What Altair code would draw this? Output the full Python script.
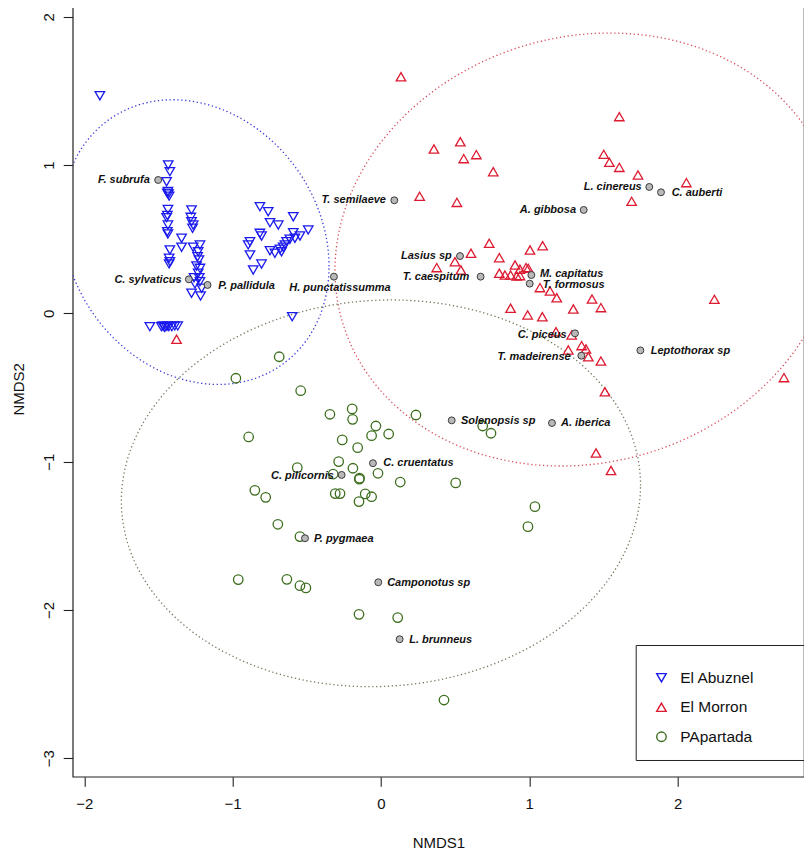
import altair as alt
import pandas as pd
import numpy as np

# ---------------- data ----------------
sites = ["El Abuznel", "El Morron", "PApartada"]
site_colors = ["#1a1aee", "#dd1a30", "#3d6e1e"]
site_shapes = ["triangle-down", "triangle-up", "circle"]

abuz_x = [-1.895, -1.434, -1.423, -1.445, -1.436, -1.432, -1.428, -1.440, -1.436, -1.440,
          -1.445, -1.436, -1.440, -1.436, -1.423, -1.428, -1.423, -1.428, -1.277, -1.282,
          -1.277, -1.266, -1.270, -1.344, -1.344, -1.266, -1.220, -1.232, -1.236, -1.227,
          -1.243, -1.220, -1.232, -1.220, -1.254, -1.209, -1.277, -1.216, -1.260, -1.225,
          -0.816, -0.760, -0.591, -0.748, -0.692, -0.490, -0.816, -0.805, -0.591, -0.546,
          -0.580, -0.614, -0.636, -0.647, -0.883, -0.895, -0.883, -0.748, -0.715, -0.681,
          -0.659, -0.670, -0.805, -0.861, -1.558, -1.480, -1.470, -1.460, -1.450, -1.440,
          -1.430, -1.410, -1.390, -1.370, -0.598]
abuz_y = [1.467, 1.000, 0.955, 0.887, 0.822, 0.805, 0.790, 0.810, 0.700, 0.660,
          0.645, 0.595, 0.550, 0.535, 0.427, 0.371, 0.348, 0.333, 0.697, 0.647,
          0.618, 0.595, 0.573, 0.506, 0.445, 0.445, 0.460, 0.415, 0.382, 0.360,
          0.319, 0.303, 0.270, 0.213, 0.198, 0.169, 0.135, 0.117, 0.240, 0.240,
          0.719, 0.685, 0.651, 0.611, 0.595, 0.562, 0.539, 0.521, 0.543, 0.521,
          0.506, 0.499, 0.483, 0.461, 0.483, 0.461, 0.393, 0.422, 0.405, 0.432,
          0.445, 0.415, 0.332, 0.292, -0.090, -0.090, -0.085, -0.095, -0.090, -0.085,
          -0.090, -0.090, -0.085, -0.085, -0.023]

morr_x = [0.135, 1.607, 0.357, 0.535, 0.558, 0.643, 0.757, 1.502, 1.540, 1.607,
          1.733, 2.059, 1.690, 0.261, 0.512, 0.730, 0.607, 0.499, 0.376, 0.539,
          0.798, 1.005, 1.090, 0.904, 0.937, 0.978, 0.798, 0.836, 0.874, 0.915,
          0.937, 0.993, 1.072, 1.140, 1.185, 1.423, 1.483, 1.297, 0.874, 0.989,
          1.088, 1.180, 1.286, 1.353, 1.382, 1.398, 1.263, 1.483, 1.510, 2.248,
          2.717, -1.378, 1.551, 1.450]
morr_y = [1.595, 1.326, 1.108, 1.157, 1.043, 1.070, 0.955, 1.072, 1.018, 0.984,
          0.933, 0.881, 0.755, 0.789, 0.748, 0.472, 0.405, 0.348, 0.308, 0.292,
          0.375, 0.427, 0.456, 0.326, 0.297, 0.308, 0.270, 0.258, 0.258, 0.252,
          0.254, 0.303, 0.173, 0.150, 0.105, 0.096, 0.038, 0.029, 0.034, -0.011,
          -0.023, -0.124, -0.146, -0.218, -0.241, -0.293, -0.247, -0.322, -0.529, 0.094,
          -0.434, -0.175, -1.060, -0.942]

papa_x = [-0.686, -0.978, -0.541, -0.344, -0.194, -0.191, 0.236, -0.034, -0.063, 0.052,
          -0.261, -0.157, -0.892, -0.285, -0.564, -0.189, -0.322, -0.146, -0.144, -0.020,
          0.130, 0.504, -0.850, -0.777, -0.308, -0.276, -0.106, -0.063, -0.148, 1.038,
          0.991, -0.695, -0.546, -0.962, -0.634, -0.546, -0.506, -0.148, 0.113, 0.425,
          0.686, 0.742]
papa_y = [-0.293, -0.438, -0.522, -0.681, -0.645, -0.715, -0.686, -0.760, -0.825, -0.814,
          -0.854, -0.906, -0.834, -1.000, -1.041, -1.045, -1.084, -1.119, -1.112, -1.079,
          -1.138, -1.144, -1.194, -1.241, -1.216, -1.216, -1.218, -1.237, -1.270, -1.304,
          -1.439, -1.423, -1.506, -1.796, -1.794, -1.837, -1.852, -2.030, -2.052, -2.608,
          -0.760, -0.809]

species = ["F. subrufa", "C. sylvaticus", "P. pallidula", "H. punctatissumma",
           "T. semilaeve", "L. cinereus", "C. auberti", "A. gibbosa", "Lasius sp",
           "T. caespitum", "M. capitatus", "T. formosus", "C. piceus", "T. madeirense",
           "Leptothorax sp", "Solenopsis sp", "A. iberica", "C. cruentatus",
           "C. pilicornis", "P. pygmaea", "Camponotus sp", "L. brunneus"]
sp_x = [-1.502, -1.295, -1.169, -0.317, 0.090, 1.809, 1.888, 1.367, 0.533, 0.672,
        1.014, 1.003, 1.308, 1.351, 1.749, 0.477, 1.153, -0.054, -0.265, -0.512,
        -0.018, 0.126]
sp_y = [0.899, 0.229, 0.191, 0.247, 0.762, 0.852, 0.816, 0.697, 0.386, 0.247,
        0.258, 0.200, -0.135, -0.286, -0.250, -0.722, -0.740, -1.011, -1.090, -1.517,
        -1.814, -2.198]
lab_x = [-1.558, -1.344, -1.097, -0.618, 0.034, 1.758, 1.960, 1.315, 0.477, 0.595,
         1.072, 1.090, 1.252, 1.279, 1.819, 0.539, 1.214, 0.016, -0.317, -0.452,
         0.042, 0.191]
lab_y = [0.899, 0.225, 0.186, 0.169, 0.762, 0.852, 0.813, 0.697, 0.384, 0.243,
         0.262, 0.194, -0.146, -0.293, -0.252, -0.726, -0.743, -1.011, -1.097, -1.524,
         -1.819, -2.203]
lab_side = ["right", "right", "left", "left", "right", "right", "left", "right", "right",
            "right", "left", "left", "right", "right", "left", "left", "left", "left",
            "right", "left", "left", "left"]

# ellipse parameters: centre, half-extents along x and y, and x-y correlation
ell_site = ["El Abuznel", "El Morron", "PApartada"]
ell_cx = [-1.25, 1.38, 0.00]
ell_cy = [0.48, 0.43, -1.214]
ell_xh = [0.90, 1.69, 1.75]
ell_yh = [0.96, 1.46, 1.304]
ell_rho = [-0.17, 0.097, 0.04]
ell_colors = ["#3a3ad8", "#d8505e", "#6f7d5e"]

x_ticks = [-2, -1, 0, 1, 2]
y_ticks = [-3, -2, -1, 0, 1, 2]

# ---------------- tables ----------------
pts = pd.concat([
    pd.DataFrame({"x": abuz_x, "y": abuz_y, "site": sites[0]}),
    pd.DataFrame({"x": morr_x, "y": morr_y, "site": sites[1]}),
    pd.DataFrame({"x": papa_x, "y": papa_y, "site": sites[2]}),
], ignore_index=True)

spec = pd.DataFrame({"name": species, "x": sp_x, "y": sp_y,
                     "lx": lab_x, "ly": lab_y, "side": lab_side})

t = np.linspace(0, 2 * np.pi, 241)
ell_rows = []
for s, cx, cy, xh, yh, r in zip(ell_site, ell_cx, ell_cy, ell_xh, ell_yh, ell_rho):
    d = np.arccos(r)
    ell_rows.append(pd.DataFrame({"t": np.arange(len(t)),
                                  "x": cx + xh * np.cos(t),
                                  "y": cy + yh * np.cos(t - d),
                                  "site": s}))
ell = pd.concat(ell_rows, ignore_index=True)

# ---------------- chart ----------------
FONT = "Liberation Sans"
xsc = alt.Scale(domain=[-2.078, 2.852], nice=False, zero=False)
ysc = alt.Scale(domain=[-3.125, 2.106], nice=False, zero=False)

X = alt.X("x:Q", scale=xsc, title="NMDS1",
          axis=alt.Axis(values=x_ticks, format="d", labelPadding=10, titlePadding=24,
                        labelAngle=0))
Y = alt.Y("y:Q", scale=ysc, title="NMDS2",
          axis=alt.Axis(values=y_ticks, format="d", labelAngle=270, labelPadding=6.5,
                        titlePadding=15, labelAlign="center", labelBaseline="bottom"))

# invisible spacer title on top of the legend: sets the box width and top margin
legend = alt.Legend(title="M" * 28, titleOrient="top", titleOpacity=0, titleFontSize=6,
                    titleFont=FONT, titlePadding=5, titleLimit=400,
                    orient="none", legendX=563, legendY=644,
                    labelFont=FONT, labelFontSize=15.5, labelColor="#111",
                    symbolSize=90, symbolStrokeWidth=1.4, labelOffset=11, symbolOffset=4,
                    padding=14, rowPadding=12.5, strokeColor="#222", fillColor="white",
                    cornerRadius=0)

layers = []
for s, c in zip(ell_site, ell_colors):
    layers.append(
        alt.Chart(ell[ell.site == s]).mark_line(strokeDash=[1.3, 2.6], strokeWidth=1.3,
                                                 clip=True)
        .encode(x=X, y=Y, order="t:Q", color=alt.value(c))
    )

points = alt.Chart(pts).mark_point(filled=False, strokeWidth=1.3, size=90, opacity=1).encode(
    x=X, y=Y,
    color=alt.Color("site:N", scale=alt.Scale(domain=sites, range=site_colors), legend=legend),
    shape=alt.Shape("site:N", scale=alt.Scale(domain=sites, range=site_shapes), legend=legend),
)
layers.append(points)

dots = alt.Chart(spec).mark_point(shape="circle", filled=True, fill="#b9b9b9", stroke="#3a3a3a",
                                  strokeWidth=1, size=48, opacity=1).encode(x=X, y=Y)
layers.append(dots)

for side in ["left", "right"]:
    layers.append(
        alt.Chart(spec[spec.side == side]).mark_text(
            align=side, baseline="middle", font=FONT, fontSize=11, fontStyle="italic",
            fontWeight="bold", color="#111").encode(
            x=alt.X("lx:Q", scale=xsc), y=alt.Y("ly:Q", scale=ysc), text="name:N")
    )

chart = alt.layer(*layers).properties(
    width=731.3, height=775.7,
    autosize=alt.AutoSizeParams(type="none"),
    padding={"left": 64.7, "top": -7, "right": 0, "bottom": 74},
).configure_view(stroke="#222", strokeWidth=1.2).configure_axis(
    domain=False, grid=False, ticks=True, tickColor="#222", tickSize=9.5, tickWidth=1.1,
    labelFont=FONT, labelFontSize=15, labelColor="#111",
    titleFont=FONT, titleFontSize=15, titleFontWeight="normal", titleColor="#111",
)

chart.save("out.html", embed_options={"renderer": "svg", "actions": False})
